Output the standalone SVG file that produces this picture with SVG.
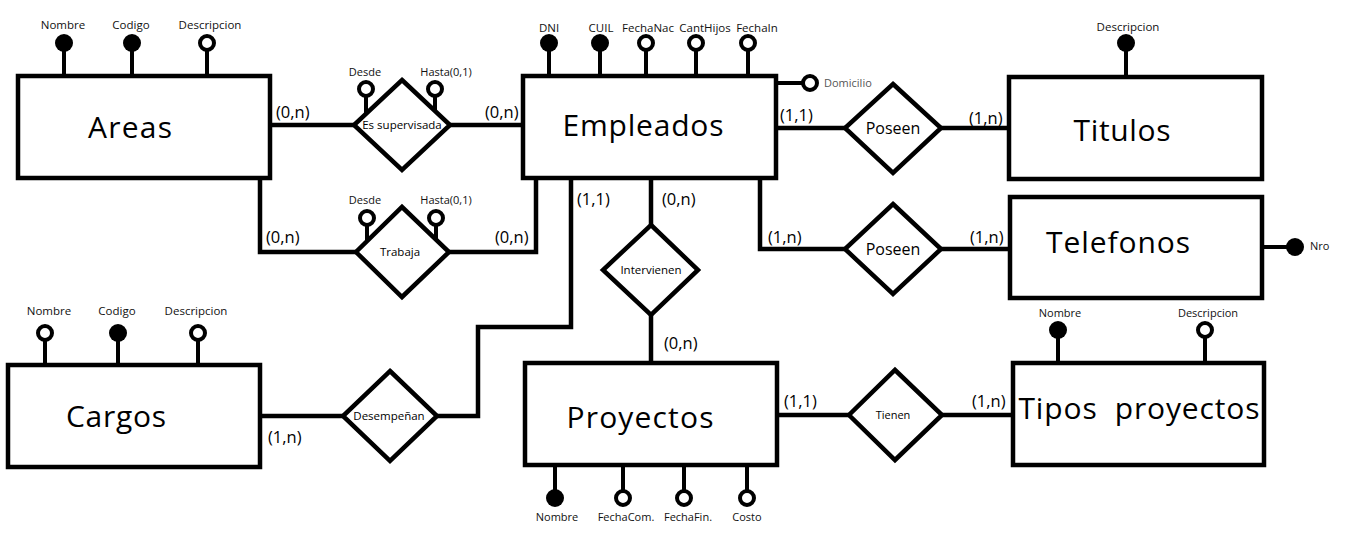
<svg xmlns="http://www.w3.org/2000/svg" width="1345" height="536" viewBox="0 0 1345 536">
<style>
.box{fill:#fff;stroke:#000;stroke-width:4.5}
.dia{fill:#fff;stroke:#000;stroke-width:4.5;stroke-linejoin:miter}
.ln{fill:none;stroke:#000;stroke-width:4.5}
.al{stroke:#000;stroke-width:4}
.hol{fill:#fff;stroke:#000;stroke-width:4}
.fil{fill:#000}
.big{font-family:"Open Sans","Noto Sans",sans-serif;font-size:30px;fill:#000;text-anchor:middle}
.card{font-family:"Open Sans","Noto Sans",sans-serif;font-size:16.5px;fill:#000}
.sm{font-family:"Open Sans","Noto Sans",sans-serif;font-size:11.5px;fill:#111;text-anchor:middle}
.rel{font-family:"Open Sans","Noto Sans",sans-serif;font-size:11.5px;fill:#000;text-anchor:middle}
</style>
<rect width="1345" height="536" fill="#fff"/>

<g id="connectors">
  <polyline class="ln" points="270,125 354,125"/>
  <polyline class="ln" points="450,125 523,125"/>
  <polyline class="ln" points="260,178 260,252 356,252"/>
  <polyline class="ln" points="449,252 536,252 536,178"/>
  <polyline class="ln" points="776,128 845,128"/>
  <polyline class="ln" points="941,128 1009,128"/>
  <polyline class="ln" points="760,178 760,249 845,249"/>
  <polyline class="ln" points="941,249 1010,249"/>
  <polyline class="ln" points="651,178 651,225"/>
  <polyline class="ln" points="651,315 651,363"/>
  <polyline class="ln" points="260,416 343,416"/>
  <polyline class="ln" points="437,416 478,416 478,327 571,327 571,178"/>
  <polyline class="ln" points="777,415 849,415"/>
  <polyline class="ln" points="942,415 1013,415"/>
  <text class="card" x="276" y="118">(0,n)</text>
  <text class="card" x="485" y="118">(0,n)</text>
  <text class="card" x="266" y="243">(0,n)</text>
  <text class="card" x="495" y="243">(0,n)</text>
  <text class="card" x="780" y="121">(1,1)</text>
  <text class="card" x="969" y="124">(1,n)</text>
  <text class="card" x="768" y="243">(1,n)</text>
  <text class="card" x="970" y="243">(1,n)</text>
  <text class="card" x="577" y="205">(1,1)</text>
  <text class="card" x="662" y="205">(0,n)</text>
  <text class="card" x="664" y="349">(0,n)</text>
  <text class="card" x="268" y="443">(1,n)</text>
  <text class="card" x="784" y="407">(1,1)</text>
  <text class="card" x="972" y="407">(1,n)</text>
</g>

<g id="areas">
  <rect class="box" x="18" y="76" width="252" height="102"/>
  <text class="big" x="130" y="138" textLength="84">Areas</text>
</g>
<g id="areas-nombre"><line class="al" x1="64" y1="43" x2="64" y2="76"/><circle class="fil" cx="64" cy="43" r="9"/><text class="sm" x="63" y="29">Nombre</text></g>
<g id="areas-codigo"><line class="al" x1="132" y1="43" x2="132" y2="76"/><circle class="fil" cx="132" cy="43" r="9"/><text class="sm" x="131" y="29">Codigo</text></g>
<g id="areas-descripcion"><line class="al" x1="207" y1="50" x2="207" y2="76"/><circle class="hol" cx="207" cy="43" r="7"/><text class="sm" x="210" y="29">Descripcion</text></g>

<g id="es-supervisada">
  <polygon class="dia" points="402,80 450,125 402,170 354,125"/>
  <text class="rel" x="402" y="129">Es supervisada</text>
</g>
<g id="es-supervisada-desde"><line class="al" x1="366" y1="96" x2="366" y2="114"/><circle class="hol" cx="366" cy="89" r="7"/><text class="sm" x="365" y="76" style="font-size:11px">Desde</text></g>
<g id="es-supervisada-hasta"><line class="al" x1="435" y1="96" x2="435" y2="112"/><circle class="hol" cx="435" cy="89" r="7"/><text class="sm" x="446" y="76" style="font-size:11px">Hasta(0,1)</text></g>

<g id="trabaja">
  <polygon class="dia" points="402,207 449,252 402,297 356,252"/>
  <text class="rel" x="400" y="256">Trabaja</text>
</g>
<g id="trabaja-desde"><line class="al" x1="367" y1="225" x2="367" y2="242"/><circle class="hol" cx="367" cy="218" r="7"/><text class="sm" x="365" y="204" style="font-size:11px">Desde</text></g>
<g id="trabaja-hasta"><line class="al" x1="436" y1="225" x2="436" y2="240"/><circle class="hol" cx="436" cy="218" r="7"/><text class="sm" x="446" y="204" style="font-size:11px">Hasta(0,1)</text></g>

<g id="empleados">
  <rect class="box" x="523" y="76" width="253" height="102"/>
  <text class="big" x="643" y="136" textLength="161">Empleados</text>
</g>
<g id="emp-dni"><line class="al" x1="549" y1="43" x2="549" y2="76"/><circle class="fil" cx="549" cy="43" r="9"/><text class="sm" x="549" y="32">DNI</text></g>
<g id="emp-cuil"><line class="al" x1="600" y1="43" x2="600" y2="76"/><circle class="fil" cx="600" cy="43" r="9"/><text class="sm" x="601" y="32">CUIL</text></g>
<g id="emp-fechanac"><line class="al" x1="646" y1="50" x2="646" y2="76"/><circle class="hol" cx="646" cy="43" r="7"/><text class="sm" x="648" y="32">FechaNac</text></g>
<g id="emp-canthijos"><line class="al" x1="696" y1="50" x2="696" y2="76"/><circle class="hol" cx="696" cy="43" r="7"/><text class="sm" x="705" y="32">CantHijos</text></g>
<g id="emp-fechain"><line class="al" x1="748" y1="50" x2="748" y2="76"/><circle class="hol" cx="748" cy="43" r="7"/><text class="sm" x="757" y="32">FechaIn</text></g>
<g id="emp-domicilio"><line class="al" x1="776" y1="83" x2="803" y2="83"/><circle class="hol" cx="810" cy="83" r="7"/><text x="824" y="87" font-family="Open Sans, Noto Sans, sans-serif" font-size="11" fill="#555">Domicilio</text></g>

<g id="poseen-titulos">
  <polygon class="dia" points="893,84 941,128 893,173 845,128"/>
  <text class="rel" x="893" y="134" style="font-size:16px">Poseen</text>
</g>
<g id="poseen-telefonos">
  <polygon class="dia" points="893,204 941,249 893,294 845,249"/>
  <text class="rel" x="893" y="255" style="font-size:16px">Poseen</text>
</g>

<g id="titulos">
  <rect class="box" x="1009" y="77" width="253" height="102"/>
  <text class="big" x="1122" y="141" textLength="97">Titulos</text>
</g>
<g id="titulos-descripcion"><line class="al" x1="1126" y1="43" x2="1126" y2="77"/><circle class="fil" cx="1126" cy="43" r="9"/><text class="sm" x="1128" y="31">Descripcion</text></g>

<g id="telefonos">
  <rect class="box" x="1010" y="197" width="252" height="101"/>
  <text class="big" x="1118" y="253" textLength="144">Telefonos</text>
</g>
<g id="telefonos-nro"><line class="al" x1="1262" y1="247" x2="1295" y2="247"/><circle class="fil" cx="1295" cy="247" r="9"/><text x="1310" y="250" font-family="Open Sans, Noto Sans, sans-serif" font-size="11" fill="#111">Nro</text></g>

<g id="intervienen">
  <polygon class="dia" points="651,225 698,270 651,315 603,270"/>
  <text class="rel" x="651" y="274">Intervienen</text>
</g>

<g id="cargos">
  <rect class="box" x="8" y="365" width="252" height="102"/>
  <text class="big" x="116" y="427" textLength="100">Cargos</text>
</g>
<g id="cargos-nombre"><line class="al" x1="45" y1="340" x2="45" y2="365"/><circle class="hol" cx="45" cy="333" r="7"/><text class="sm" x="49" y="315">Nombre</text></g>
<g id="cargos-codigo"><line class="al" x1="118" y1="333" x2="118" y2="365"/><circle class="fil" cx="118" cy="333" r="9"/><text class="sm" x="117" y="315">Codigo</text></g>
<g id="cargos-descripcion"><line class="al" x1="198" y1="340" x2="198" y2="365"/><circle class="hol" cx="198" cy="333" r="7"/><text class="sm" x="196" y="315">Descripcion</text></g>

<g id="desempenan">
  <polygon class="dia" points="390,371 437,416 390,461 343,416"/>
  <text class="rel" x="389" y="420">Desempeñan</text>
</g>

<g id="proyectos">
  <rect class="box" x="525" y="363" width="252" height="102"/>
  <text class="big" x="640" y="428" textLength="147">Proyectos</text>
</g>
<g id="proy-nombre"><line class="al" x1="555" y1="465" x2="555" y2="498"/><circle class="fil" cx="555" cy="498" r="9"/><text class="sm" x="557" y="521" style="font-size:11px">Nombre</text></g>
<g id="proy-fechacom"><line class="al" x1="623" y1="465" x2="623" y2="491"/><circle class="hol" cx="623" cy="498" r="7"/><text class="sm" x="626" y="521" style="font-size:11px">FechaCom.</text></g>
<g id="proy-fechafin"><line class="al" x1="684" y1="465" x2="684" y2="491"/><circle class="hol" cx="684" cy="498" r="7"/><text class="sm" x="688" y="521" style="font-size:11px">FechaFin.</text></g>
<g id="proy-costo"><line class="al" x1="747" y1="465" x2="747" y2="491"/><circle class="hol" cx="747" cy="498" r="7"/><text class="sm" x="747" y="521" style="font-size:11px">Costo</text></g>

<g id="tienen">
  <polygon class="dia" points="895,370 942,415 895,460 849,415"/>
  <text class="rel" x="893" y="419" style="font-size:11px">Tienen</text>
</g>

<g id="tipos-proyectos">
  <rect class="box" x="1013" y="363" width="251" height="102"/>
  <text class="big" x="1139" y="419" textLength="241" style="white-space:pre">Tipos  proyectos</text>
</g>
<g id="tipos-nombre"><line class="al" x1="1058" y1="330" x2="1058" y2="363"/><circle class="fil" cx="1058" cy="330" r="9"/><text class="sm" x="1060" y="317" style="font-size:11px">Nombre</text></g>
<g id="tipos-descripcion"><line class="al" x1="1205" y1="337" x2="1205" y2="363"/><circle class="hol" cx="1205" cy="330" r="7"/><text class="sm" x="1208" y="317" style="font-size:11px">Descripcion</text></g>
</svg>
